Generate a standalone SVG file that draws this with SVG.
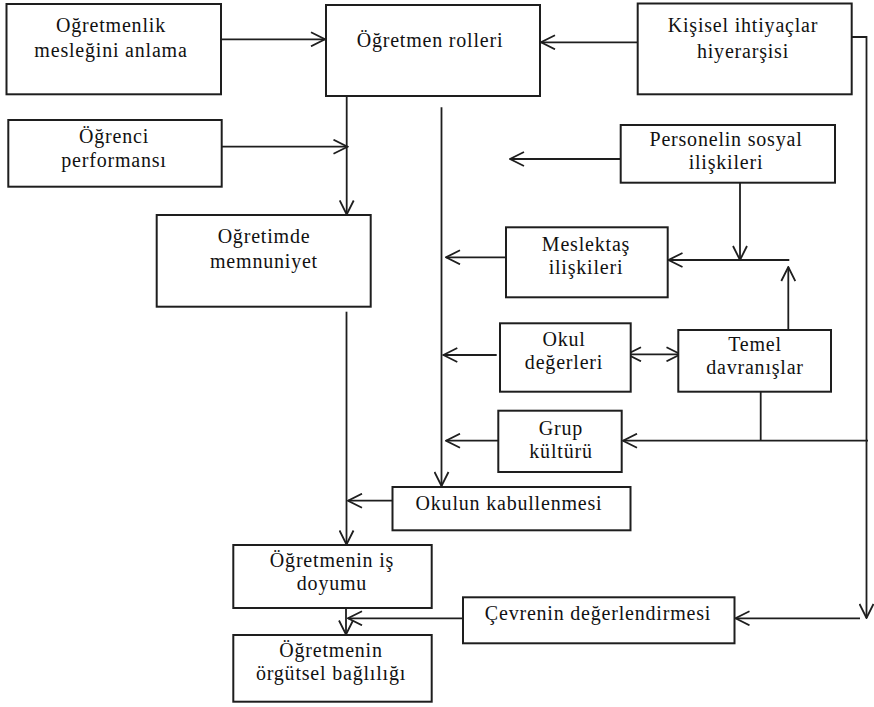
<svg xmlns="http://www.w3.org/2000/svg" width="874" height="707" viewBox="0 0 874 707">
<defs>
<style>
.box{fill:#fff;stroke:#1e1e1e;stroke-width:2}
.c{fill:none;stroke:#1e1e1e;stroke-width:1.8}
.a{marker-end:url(#ah)}
.d{marker-start:url(#ah);marker-end:url(#ah)}
text{font-family:"Liberation Serif","Times New Roman",serif;font-size:20px;letter-spacing:0.8px;fill:#111;text-anchor:middle}
</style>
<marker id="ah" viewBox="0 0 16 16" refX="15" refY="8" markerWidth="16" markerHeight="16" markerUnits="userSpaceOnUse" orient="auto-start-reverse">
<path d="M1,1 L15,8 L1,15" fill="none" stroke="#1e1e1e" stroke-width="1.8"/>
</marker>
</defs>
<rect width="874" height="707" fill="#fff"/>
<g id="connectors">
<line class="c a" x1="221" y1="39.3" x2="325" y2="39.3"/>
<line class="c a" x1="637.7" y1="42.3" x2="541" y2="42.3"/>
<polyline class="c a" points="852,37 866.5,37 866.5,618"/>
<line class="c a" x1="860" y1="618.3" x2="735.5" y2="618.3"/>
<line class="c a" x1="620.7" y1="159" x2="510" y2="159"/>
<line class="c a" x1="740" y1="183" x2="740" y2="260"/>
<line class="c a" x1="789.3" y1="260" x2="668.5" y2="260"/>
<line class="c a" x1="788.3" y1="330" x2="788.3" y2="267"/>
<line class="c a" x1="506" y1="257.3" x2="446" y2="257.3"/>
<line class="c a" x1="441.5" y1="107.3" x2="441.5" y2="486"/>
<line class="c a" x1="496.7" y1="355" x2="443.3" y2="355"/>
<line class="c d" x1="627" y1="354.3" x2="680.5" y2="354.3"/>
<line class="c" x1="760.7" y1="391.7" x2="760.7" y2="440.7"/>
<line class="c a" x1="868" y1="440.7" x2="623" y2="440.7"/>
<line class="c a" x1="498.3" y1="440.7" x2="446" y2="440.7"/>
<line class="c a" x1="218" y1="146.7" x2="347.5" y2="146.7"/>
<line class="c a" x1="346.7" y1="95" x2="346.7" y2="214.5"/>
<line class="c a" x1="346.5" y1="311.7" x2="346.5" y2="544.5"/>
<line class="c a" x1="392" y1="500.7" x2="348" y2="500.7"/>
<line class="c a" x1="346" y1="607.7" x2="346" y2="634.5"/>
<line class="c a" x1="463" y1="618.3" x2="348" y2="618.3"/>
</g>
<g id="n1"><rect class="box" x="6.5" y="4" width="214.5" height="90.3"/><text x="111" y="32">Oğretmenlik</text><text x="111" y="57">mesleğini anlama</text></g>
<g id="n2"><rect class="box" x="326" y="5" width="214" height="91"/><text x="430" y="46.5">Öğretmen rolleri</text></g>
<g id="n3"><rect class="box" x="637.7" y="3.5" width="214" height="90.8"/><text x="743" y="31.7">Kişisel ihtiyaçlar</text><text x="743" y="58">hiyerarşisi</text></g>
<g id="n4"><rect class="box" x="8.3" y="120" width="213.4" height="66.7"/><text x="114" y="142.7">Öğrenci</text><text x="114" y="166.7">performansı</text></g>
<g id="n5"><rect class="box" x="620.7" y="125" width="214.3" height="57.7"/><text x="726" y="146">Personelin sosyal</text><text x="726" y="169">ilişkileri</text></g>
<g id="n6"><rect class="box" x="156.7" y="215" width="214" height="91.7"/><text x="264" y="243.3">Oğretimde</text><text x="264" y="268.3">memnuniyet</text></g>
<g id="n7"><rect class="box" x="506" y="227.3" width="161.7" height="70"/><text x="586" y="250.5">Meslektaş</text><text x="586" y="273.5">ilişkileri</text></g>
<g id="n8"><rect class="box" x="500" y="323.3" width="130.7" height="68.4"/><text x="564" y="345.5">Okul</text><text x="564" y="368.5">değerleri</text></g>
<g id="n9"><rect class="box" x="678.3" y="330" width="152.7" height="61.7"/><text x="755" y="351">Temel</text><text x="755" y="374">davranışlar</text></g>
<g id="n10"><rect class="box" x="498.3" y="410.7" width="123.4" height="61.3"/><text x="561" y="434.5">Grup</text><text x="561" y="457.5">kültürü</text></g>
<g id="n11"><rect class="box" x="392.5" y="487" width="238" height="43.3"/><text x="509" y="510">Okulun kabullenmesi</text></g>
<g id="n12"><rect class="box" x="233.3" y="545" width="198.4" height="63"/><text x="332" y="566.7">Öğretmenin iş</text><text x="332" y="590">doyumu</text></g>
<g id="n13"><rect class="box" x="463" y="597.3" width="271.5" height="46"/><text x="598" y="620">Çevrenin değerlendirmesi</text></g>
<g id="n14"><rect class="box" x="233.3" y="635" width="198.4" height="66.7"/><text x="331" y="657">Öğretmenin</text><text x="331" y="680">örgütsel bağlılığı</text></g>
</svg>
